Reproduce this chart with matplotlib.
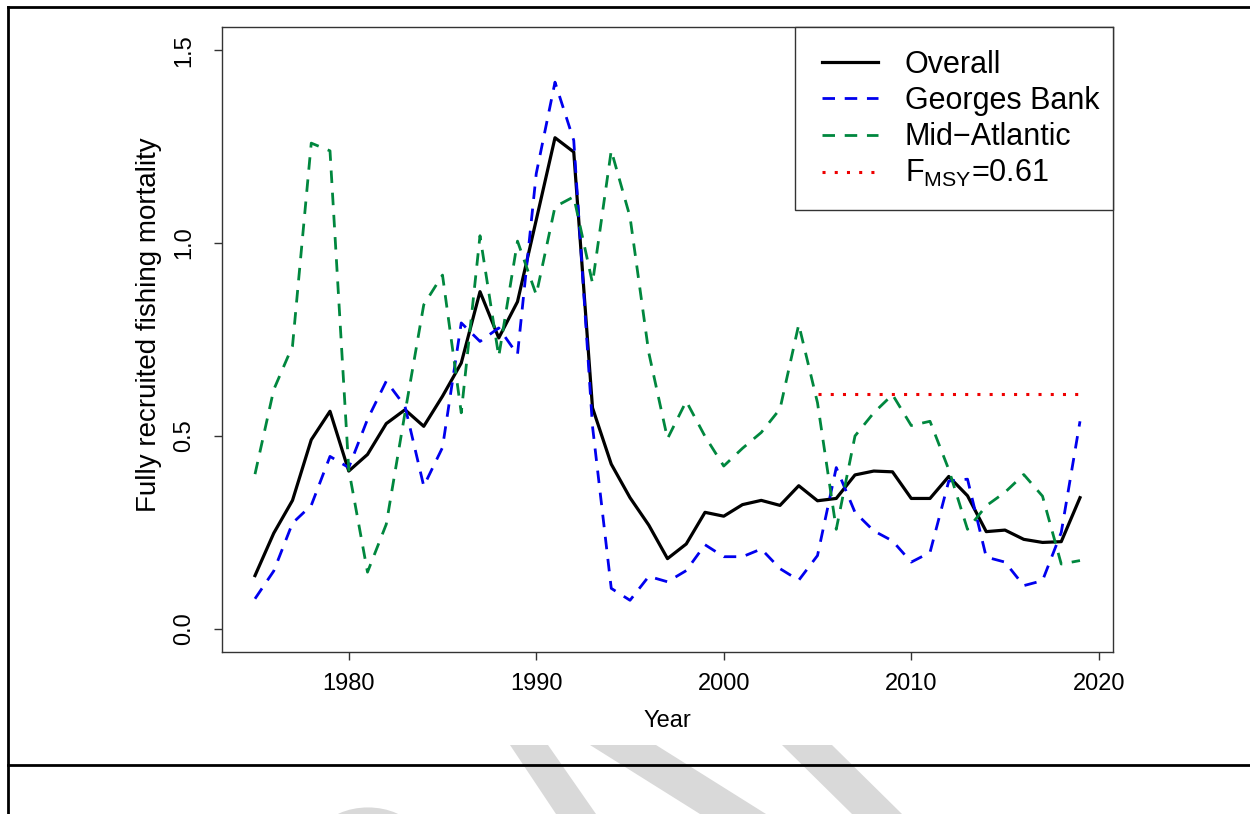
import matplotlib
matplotlib.use("Agg")
import matplotlib.pyplot as plt
from matplotlib.lines import Line2D
from matplotlib.patches import Polygon, Wedge, Rectangle

plt.rcParams['font.family'] = ['Liberation Sans', 'DejaVu Sans']

# Fishing mortality by year
years = [1975, 1976, 1977, 1978, 1979, 1980, 1981, 1982, 1983, 1984,
         1985, 1986, 1987, 1988, 1989, 1990, 1991, 1992, 1993, 1994,
         1995, 1996, 1997, 1998, 1999, 2000, 2001, 2002, 2003, 2004,
         2005, 2006, 2007, 2008, 2009, 2010, 2011, 2012, 2013, 2014,
         2015, 2016, 2017, 2018, 2019]

overall = [0.138, 0.248, 0.333, 0.490, 0.564, 0.409, 0.452, 0.532, 0.568, 0.525,
           0.603, 0.689, 0.874, 0.754, 0.848, 1.060, 1.273, 1.236, 0.573, 0.427,
           0.340, 0.269, 0.182, 0.220, 0.302, 0.292, 0.322, 0.333, 0.320, 0.371,
           0.332, 0.338, 0.399, 0.409, 0.407, 0.338, 0.338, 0.395, 0.345, 0.252,
           0.256, 0.232, 0.224, 0.226, 0.340]

georges_bank = [0.078, 0.150, 0.274, 0.320, 0.447, 0.418, 0.543, 0.642, 0.577, 0.370,
                0.470, 0.793, 0.745, 0.780, 0.711, 1.180, 1.417, 1.266, 0.525, 0.105,
                0.074, 0.136, 0.122, 0.151, 0.218, 0.187, 0.187, 0.207, 0.156, 0.126,
                0.190, 0.418, 0.302, 0.254, 0.228, 0.173, 0.198, 0.383, 0.388, 0.186,
                0.173, 0.112, 0.125, 0.250, 0.538]

mid_atlantic = [0.401, 0.620, 0.733, 1.259, 1.239, 0.413, 0.147, 0.271, 0.560, 0.840,
                0.917, 0.560, 1.019, 0.706, 1.005, 0.866, 1.094, 1.120, 0.896, 1.240,
                1.068, 0.716, 0.493, 0.590, 0.499, 0.422, 0.468, 0.509, 0.570, 0.789,
                0.586, 0.258, 0.500, 0.560, 0.607, 0.527, 0.538, 0.413, 0.258, 0.319,
                0.354, 0.400, 0.344, 0.168, 0.177]

fmsy_years = [2005, 2019]
fmsy_value = 0.61

xticks = [1980, 1990, 2000, 2010, 2020]
yticks = [0.0, 0.5, 1.0, 1.5]
ytick_labels = ['0.0', '0.5', '1.0', '1.5']

W, H = 1250, 814
fig = plt.figure(figsize=(W / 100, H / 100), dpi=100)
ax = fig.add_axes([222 / W, 1 - 652 / H, 891 / W, 625 / H])

ax.plot(years, overall, color='black', lw=2.3, label='Overall')
ax.plot(years, georges_bank, color='#0000ee', lw=2.0, dashes=(4.5, 3.5), label='Georges Bank')
ax.plot(years, mid_atlantic, color='#00873e', lw=2.0, dashes=(4.5, 3.5), label='Mid\u2212Atlantic')
ax.plot(fmsy_years, [fmsy_value] * len(fmsy_years), color='#ee0000', lw=2.2,
        linestyle=(0, (1, 3)), label=r'F$_{\mathregular{MSY}}$=0.61')

ax.set_xlim(1973.24, 2020.76)
ax.set_ylim(-0.06, 1.56)
ax.set_xticks(xticks)
ax.set_yticks(yticks)
ax.set_yticklabels(ytick_labels, rotation=90, va='center')
ax.tick_params(axis='x', length=6, width=1, color='#333333', labelsize=17, pad=9)
ax.tick_params(axis='y', length=6, width=1, color='#333333', labelsize=17, pad=13)
for s in ax.spines.values():
    s.set_color('#333333')
    s.set_linewidth(1.0)

ax.set_xlabel('Year', fontsize=17, labelpad=11)
ax.set_ylabel('Fully recruited fishing mortality', fontsize=20)
ax.yaxis.set_label_coords((162 - 222) / 891, (652 - 325) / 625)

# legend box drawn by hand so it sits flush in the top-right corner like R's legend
fig.add_artist(Rectangle((795 / W, 1 - 210 / H), 318 / W, 183 / H, transform=fig.transFigure,
                         facecolor='white', edgecolor='#333333', lw=1.0, zorder=4))
leg = fig.legend(*ax.get_legend_handles_labels(), loc='upper left',
                 bbox_to_anchor=(822 / W, 1 - 50 / H), borderaxespad=0, borderpad=0,
                 frameon=False, fontsize=22, handlelength=1.83,
                 handletextpad=0.88, labelspacing=0.2)
leg.set_zorder(5)

# document frame lines around the figure
for (x0, y0, x1, y1) in [(8, 7, W, 7), (8, 7, 8, H), (8, 765, W, 765)]:
    fig.add_artist(Line2D([x0 / W, x1 / W], [1 - y0 / H, 1 - y1 / H],
                          transform=fig.transFigure, color='black', lw=2))

# light grey watermark pieces at the bottom
wm = '#d9d9d9'
def px(pts):
    return [(x / W, 1 - y / H) for x, y in pts]

for poly in [[(510, 745), (548, 745), (596, 814), (556, 814)],
             [(590, 745), (656, 745), (766, 814), (700, 814)],
             [(782, 745), (832, 745), (902, 814), (852, 814)]]:
    fig.add_artist(Polygon(px(poly), closed=True, transform=fig.transFigure,
                           facecolor=wm, edgecolor='none', zorder=0))
fig.add_artist(Wedge((368 / W, 1 - 840 / H), 50 / W, 20, 160, width=22 / W,
                     transform=fig.transFigure, facecolor=wm, edgecolor='none', zorder=0))

fig.savefig('out.png', dpi=100)
